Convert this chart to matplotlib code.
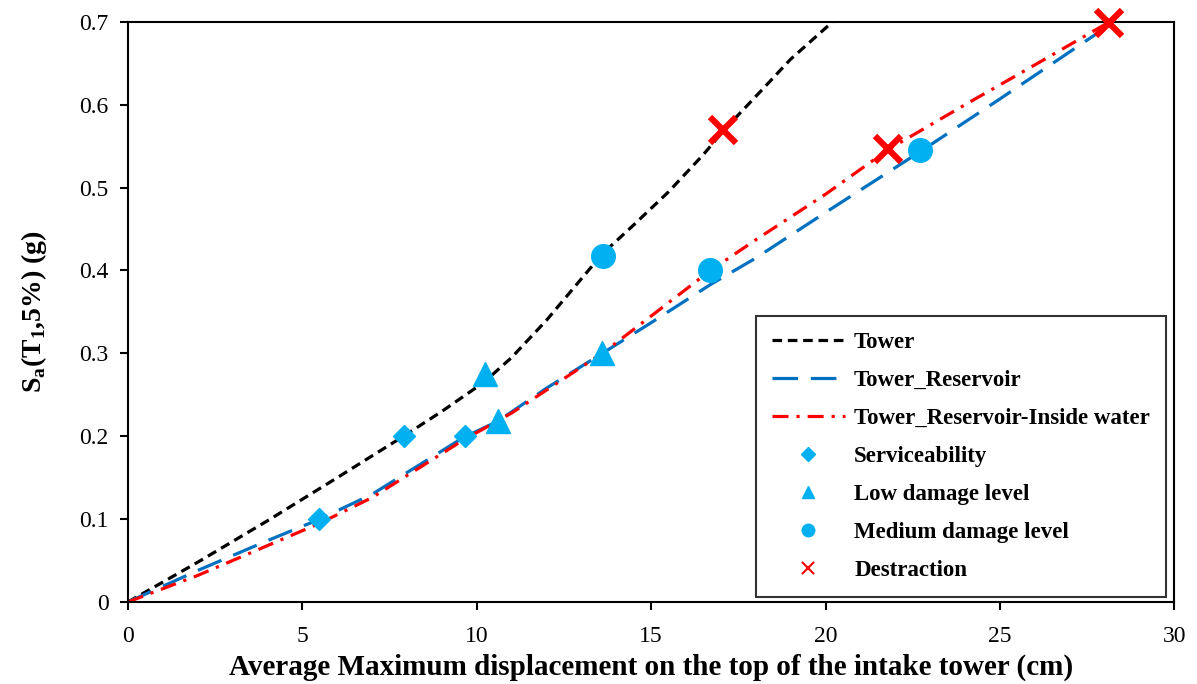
import matplotlib
matplotlib.use("Agg")
import matplotlib.pyplot as plt
from matplotlib.lines import Line2D

plt.rcParams["font.family"] = ["Liberation Serif", "DejaVu Serif"]
plt.rcParams["mathtext.fontset"] = "custom"
plt.rcParams["mathtext.rm"] = "Liberation Serif:bold"
plt.rcParams["mathtext.bf"] = "Liberation Serif:bold"

# curves
tower_x = [0, 2, 4, 6, 7.9, 9, 10.2, 11, 12, 13, 13.6, 14.5, 15.5, 16.5, 17.1, 18, 19, 20.2]
tower_y = [0, 0.048, 0.098, 0.150, 0.200, 0.230, 0.265, 0.295, 0.340, 0.390, 0.420,
           0.455, 0.495, 0.540, 0.570, 0.610, 0.655, 0.700]

res_x = [0, 2, 4, 5.5, 7, 9.6, 10.6, 12, 13.6, 15, 16.7, 18, 20, 22.7, 25, 28.1]
res_y = [0, 0.038, 0.074, 0.100, 0.130, 0.198, 0.218, 0.258, 0.300, 0.337, 0.383,
         0.415, 0.470, 0.543, 0.607, 0.695]

water_x = [0, 2, 4, 5.5, 7, 9.6, 11, 13.6, 15, 16.7, 18, 20, 21.8, 24, 26, 28.14]
water_y = [0, 0.032, 0.068, 0.095, 0.126, 0.195, 0.228, 0.300, 0.345, 0.400, 0.437,
           0.492, 0.546, 0.600, 0.648, 0.700]

# damage level markers
serv_x = [5.48, 7.9, 9.65]
serv_y = [0.1, 0.2, 0.2]
low_x = [10.24, 10.6, 13.6]
low_y = [0.275, 0.218, 0.30]
med_x = [13.62, 16.7, 22.7]
med_y = [0.418, 0.401, 0.545]
dest_x = [17.07, 21.8, 28.14]
dest_y = [0.57, 0.547, 0.699]

fig, ax = plt.subplots(figsize=(11.97, 6.84), dpi=100)
fig.subplots_adjust(left=0.107, right=0.981, bottom=0.12, top=0.968)

ax.plot(tower_x, tower_y, color="black", lw=2.3, ls=(0, (3, 1.8)))
ax.plot(res_x, res_y, color="#0070C0", lw=2.3, ls=(0, (8, 4)))
ax.plot(water_x, water_y, color="#FF0000", lw=2.3, ls=(0, (5, 2.5, 1, 2.5)))

ax.plot(serv_x, serv_y, "D", color="#00B0F0", ms=11, ls="none", clip_on=False)
ax.plot(low_x, low_y, "^", color="#00B0F0", ms=17, ls="none", clip_on=False)
ax.plot(med_x, med_y, "o", color="#00B0F0", ms=17, ls="none", clip_on=False)
ax.plot(dest_x, dest_y, "x", color="#FF0000", ms=19, mew=4.5, ls="none", clip_on=False, zorder=5)

ax.set_xlim(0, 30)
ax.set_ylim(0, 0.7)
ax.set_xticks([0, 5, 10, 15, 20, 25, 30])
ax.set_yticks([0, 0.1, 0.2, 0.3, 0.4, 0.5, 0.6, 0.7])
ax.set_yticklabels(["0", "0.1", "0.2", "0.3", "0.4", "0.5", "0.6", "0.7"])
ax.tick_params(direction="out", length=6, width=1.5, labelsize=17, pad=8)
ax.tick_params(axis="x", pad=11)
for s in ax.spines.values():
    s.set_linewidth(1.5)

ax.set_xlabel("Average Maximum displacement on the top of the intake tower (cm)",
              fontsize=21, fontweight="bold", labelpad=5)
ax.set_ylabel(r"S$_\mathrm{a}$(T$_\mathrm{1}$,5%) (g)", fontsize=20, fontweight="bold", labelpad=22)

handles = [
    Line2D([], [], color="black", lw=2.3, ls=(0, (3, 1.8))),
    Line2D([], [], color="#0070C0", lw=2.3, ls=(0, (8, 4))),
    Line2D([], [], color="#FF0000", lw=2.3, ls=(0, (5, 2.5, 1, 2.5))),
    Line2D([], [], marker="D", color="#00B0F0", ms=7, ls="none"),
    Line2D([], [], marker="^", color="#00B0F0", ms=9, ls="none"),
    Line2D([], [], marker="o", color="#00B0F0", ms=9, ls="none"),
    Line2D([], [], marker="x", color="#FF0000", ms=9, mew=1.5, ls="none"),
]
labels = ["Tower", "Tower_Reservoir", "Tower_Reservoir-Inside water",
          "Serviceability", "Low damage level", "Medium damage level", "Destraction"]
leg = ax.legend(handles, labels, loc="lower right", bbox_to_anchor=(0.992, 0.008),
                prop={"weight": "bold", "size": 16.5}, frameon=True, fancybox=False,
                edgecolor="black", handlelength=3.2, labelspacing=0.74,
                borderpad=0.7, handletextpad=0.4, borderaxespad=0)
leg.get_frame().set_linewidth(1.5)

fig.savefig("out.png", dpi=100)
